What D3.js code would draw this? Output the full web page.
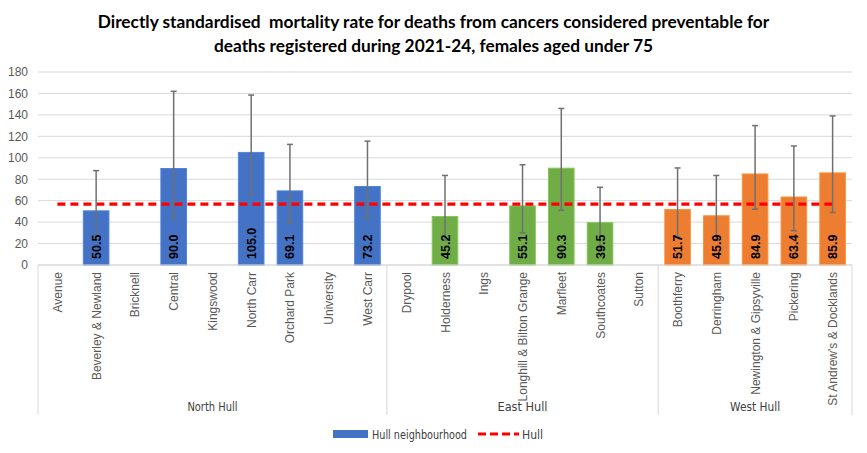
<!DOCTYPE html>
<html>
<head>
<meta charset="utf-8">
<script src="https://cdn.jsdelivr.net/npm/d3@7"></script>
<style>
  body { margin: 0; background: #fff; }
  svg { display: block; }
</style>
</head>
<body>
<div id="chart"></div>
<script>
// neighbourhoods by area (null = no value shown)
const areas = ["North Hull", "East Hull", "West Hull"];
const neighbourhoods = [
  "Avenue", "Beverley & Newland", "Bricknell", "Central", "Kingswood", "North Carr", "Orchard Park", "University", "West Carr",
  "Drypool", "Holderness", "Ings", "Longhill & Bilton Grange", "Marfleet", "Southcoates", "Sutton",
  "Boothferry", "Derringham", "Newington & Gipsyville", "Pickering", "St Andrew's & Docklands"
];
const areaOf = [
  "North Hull", "North Hull", "North Hull", "North Hull", "North Hull", "North Hull", "North Hull", "North Hull", "North Hull",
  "East Hull", "East Hull", "East Hull", "East Hull", "East Hull", "East Hull", "East Hull",
  "West Hull", "West Hull", "West Hull", "West Hull", "West Hull"
];
const rates = [null, 50.5, null, 90.0, null, 105.0, 69.1, null, 73.2,
  null, 45.2, null, 55.1, 90.3, 39.5, null,
  51.7, 45.9, 84.9, 63.4, 85.9];
const lowerCI = [null, 26, null, 44, null, 66, 39, null, 43,
  null, 23, null, 30, 51, 14, null,
  26, 23, 52, 32, 49];
const upperCI = [null, 88, null, 162, null, 158.5, 112.5, null, 115.5,
  null, 83.5, null, 93.5, 146, 72.5, null,
  90.5, 83.5, 130, 111, 139];
const hullRate = 56.7;
const yTicks = [0, 20, 40, 60, 80, 100, 120, 140, 160, 180];
const titleLines = [
  "Directly standardised  mortality rate for deaths from cancers considered preventable for",
  "deaths registered during 2021-24, females aged under 75"
];

const width = 867, height = 453;
const margin = { top: 72, right: 15, bottom: 188, left: 38 };
const plotBottom = height - margin.bottom;
const boxBottom = 415;
const narrowFont = "'Liberation Sans Narrow', 'DejaVu Sans Condensed', 'Roboto', sans-serif";

const colour = d3.scaleOrdinal()
  .domain(areas)
  .range(["#4472C4", "#70AD47", "#ED7D31"]);

const svg = d3.select("#chart").append("svg")
  .attr("width", width)
  .attr("height", height)
  .style("font-family", "'Liberation Sans', Arial, sans-serif");

const x = d3.scaleBand()
  .domain(neighbourhoods)
  .range([margin.left, width - margin.right])
  .paddingInner(0.34)
  .paddingOuter(0.17);
const step = x.step();
const cx = d => x(d) + x.bandwidth() / 2;

const y = d3.scaleLinear()
  .domain([0, 180])
  .range([plotBottom, margin.top]);

// gridlines
svg.append("g")
  .selectAll("line")
  .data(yTicks)
  .join("line")
  .attr("x1", margin.left)
  .attr("x2", width - margin.right)
  .attr("y1", d => y(d))
  .attr("y2", d => y(d))
  .attr("stroke", "#d9d9d9")
  .attr("stroke-width", 1);

// y axis labels
const yAxis = svg.append("g")
  .attr("transform", `translate(${margin.left},0)`)
  .call(d3.axisLeft(y).tickValues(yTicks).tickSize(0).tickPadding(10));
yAxis.select(".domain").remove();
yAxis.selectAll("text")
  .attr("fill", "#595959")
  .style("font-size", "12px")
  .style("font-family", "'Liberation Sans', Arial, sans-serif");

// bars
const data = neighbourhoods.map((n, i) => ({
  name: n, area: areaOf[i], value: rates[i], lo: lowerCI[i], hi: upperCI[i]
}));
const withValue = data.filter(d => d.value != null);

svg.append("g")
  .selectAll("rect")
  .data(withValue)
  .join("rect")
  .attr("x", d => x(d.name))
  .attr("width", x.bandwidth())
  .attr("y", d => y(d.value))
  .attr("height", d => y(0) - y(d.value))
  .attr("fill", d => colour(d.area))
  .attr("stroke", d => d3.color(colour(d.area)).brighter(0.4))
  .attr("stroke-width", 1);

// hull line
svg.append("line")
  .attr("x1", cx(neighbourhoods[0]))
  .attr("x2", cx(neighbourhoods[neighbourhoods.length - 1]))
  .attr("y1", y(hullRate))
  .attr("y2", y(hullRate))
  .attr("stroke", "#ff0000")
  .attr("stroke-width", 3.2)
  .attr("stroke-dasharray", "8,5");

// error bars
const err = svg.append("g")
  .attr("stroke", "#707070")
  .attr("stroke-width", 1.5);
withValue.forEach(d => {
  const c = cx(d.name);
  err.append("line").attr("x1", c).attr("x2", c).attr("y1", y(d.hi)).attr("y2", y(d.lo));
  err.append("line").attr("x1", c - 3).attr("x2", c + 3).attr("y1", y(d.hi)).attr("y2", y(d.hi));
  err.append("line").attr("x1", c - 3).attr("x2", c + 3).attr("y1", y(d.lo)).attr("y2", y(d.lo));
});

// value labels
svg.append("g")
  .selectAll("text")
  .data(withValue)
  .join("text")
  .attr("transform", d => `translate(${cx(d.name) + 4.5},${y(0) - 6}) rotate(-90)`)
  .attr("text-anchor", "start")
  .style("font-size", "12.5px")
  .style("font-weight", "bold")
  .attr("fill", "#000")
  .text(d => d.value.toFixed(1));

// category axis line and box
svg.append("line")
  .attr("x1", margin.left).attr("x2", width - margin.right)
  .attr("y1", y(0)).attr("y2", y(0))
  .attr("stroke", "#d9d9d9");

const groupEdges = [0];
areas.forEach(a => groupEdges.push(groupEdges[groupEdges.length - 1] + areaOf.filter(v => v === a).length));
svg.append("g")
  .selectAll("line")
  .data(groupEdges)
  .join("line")
  .attr("x1", i => margin.left + i * step)
  .attr("x2", i => margin.left + i * step)
  .attr("y1", y(0))
  .attr("y2", boxBottom)
  .attr("stroke", "#d9d9d9");

// category labels
svg.append("g")
  .selectAll("text")
  .data(neighbourhoods)
  .join("text")
  .attr("transform", d => `translate(${cx(d) + 4.5},${y(0) + 7}) rotate(-90)`)
  .attr("text-anchor", "end")
  .style("font-size", "12px")
  .attr("fill", "#595959")
  .text(d => d);

// area labels (narrow font in the original)
svg.append("g")
  .selectAll("text")
  .data(areas)
  .join("text")
  .attr("x", (a, i) => margin.left + (groupEdges[i] + groupEdges[i + 1]) / 2 * step)
  .attr("y", 411)
  .attr("text-anchor", "middle")
  .style("font-size", "12.5px")
  .style("font-family", narrowFont)
  .attr("fill", "#404040")
  .attr("textLength", 50)
  .attr("lengthAdjust", "spacingAndGlyphs")
  .text(a => a);

// legend
const lg = svg.append("g");
lg.append("rect")
  .attr("x", 333).attr("y", 430)
  .attr("width", 35).attr("height", 8)
  .attr("fill", colour(areas[0]));
lg.append("text")
  .attr("x", 372).attr("y", 438.5)
  .style("font-size", "12.5px")
  .style("font-family", narrowFont)
  .attr("fill", "#404040")
  .attr("textLength", 95)
  .attr("lengthAdjust", "spacingAndGlyphs")
  .text("Hull neighbourhood");
lg.append("line")
  .attr("x1", 478).attr("x2", 519)
  .attr("y1", 434).attr("y2", 434)
  .attr("stroke", "#ff0000")
  .attr("stroke-width", 3.2)
  .attr("stroke-dasharray", "8,4");
lg.append("text")
  .attr("x", 522).attr("y", 438.5)
  .style("font-size", "12.5px")
  .style("font-family", narrowFont)
  .attr("fill", "#404040")
  .attr("textLength", 21)
  .attr("lengthAdjust", "spacingAndGlyphs")
  .text("Hull");

// title
svg.append("text")
  .attr("x", width / 2)
  .attr("y", 28)
  .attr("text-anchor", "middle")
  .style("font-family", "Lato, 'Open Sans', sans-serif")
  .style("font-size", "17.3px")
  .style("font-weight", "bold")
  .style("white-space", "pre")
  .attr("fill", "#000")
  .selectAll("tspan")
  .data(titleLines)
  .join("tspan")
  .attr("x", width / 2)
  .attr("dy", (d, i) => i === 0 ? 0 : 24)
  .text(d => d);
</script>
</body>
</html>
